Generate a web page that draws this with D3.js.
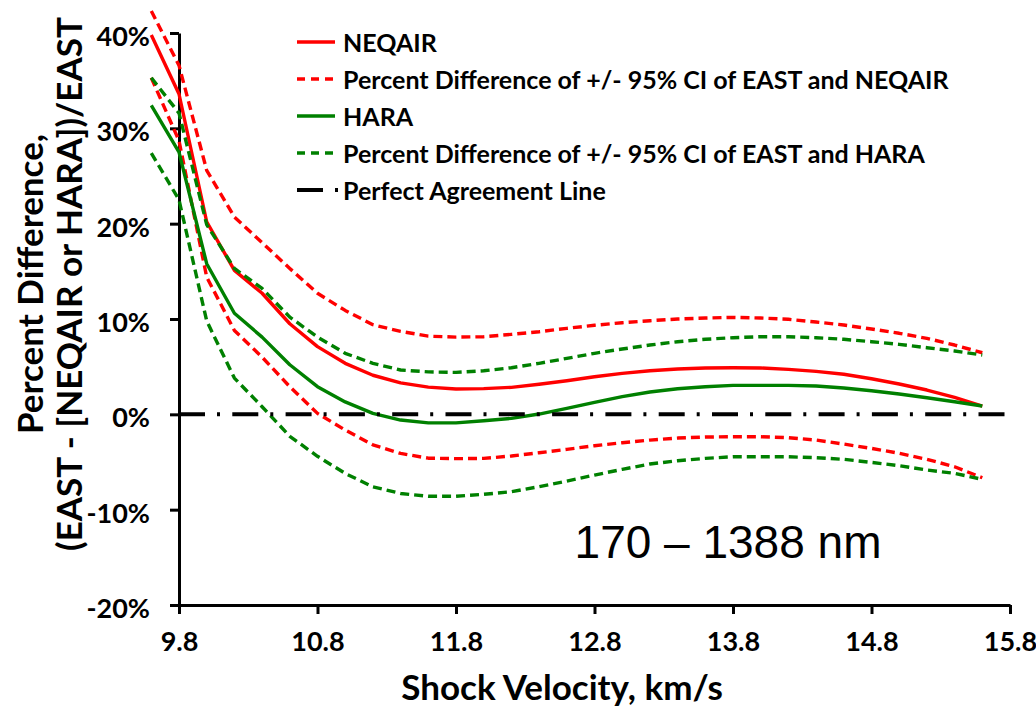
<!DOCTYPE html>
<html lang="en">
<head>
<meta charset="UTF-8">
<title>Percent Difference vs Shock Velocity</title>
<script src="https://cdn.jsdelivr.net/npm/d3@7"></script>
<style>
    body { margin: 0; background: #fff; }
    svg { display: block; }
    text { font-family: Lato, "Open Sans", sans-serif; font-weight: bold; fill: #000; }
    text.note { font-family: "Liberation Sans", Arial, sans-serif; font-weight: normal; }
</style>
</head>
<body>
<svg id="chart" width="1036" height="707"></svg>
<script>
    // data, percent difference by shock velocity (km/s)
    var velocity = [9.6, 9.8, 10.0, 10.2, 10.4, 10.6, 10.8, 11.0, 11.2, 11.4, 11.6, 11.8,
        12.0, 12.2, 12.4, 12.6, 12.8, 13.0, 13.2, 13.4, 13.6, 13.8,
        14.0, 14.2, 14.4, 14.6, 14.8, 15.0, 15.2, 15.4, 15.6];

    var neqair = [39.8, 33.6, 20.2, 15.1, 12.7, 9.5, 7.1, 5.35, 4.1, 3.3, 2.85, 2.65,
        2.7, 2.83, 3.15, 3.52, 3.94, 4.3, 4.57, 4.75, 4.86, 4.89,
        4.86, 4.72, 4.51, 4.2, 3.73, 3.18, 2.55, 1.78, 0.87];
    var neqairUpper = [42.3, 36.6, 25.6, 20.7, 18.0, 15.3, 12.7, 10.9, 9.4, 8.7, 8.2, 8.1,
        8.14, 8.39, 8.66, 9.02, 9.34, 9.61, 9.82, 10.0, 10.1, 10.17,
        10.1, 9.97, 9.68, 9.37, 8.95, 8.5, 7.97, 7.27, 6.46];
    var neqairLower = [35.3, 28.7, 14.4, 8.8, 6.0, 2.9, 0.1, -1.65, -3.2, -4.1, -4.6, -4.65,
        -4.62, -4.37, -4.03, -3.67, -3.29, -2.98, -2.7, -2.49, -2.38, -2.35,
        -2.35, -2.45, -2.7, -3.12, -3.57, -4.09, -4.72, -5.5, -6.65];

    var hara = [32.4, 27.5, 15.8, 10.6, 8.1, 5.2, 2.9, 1.3, 0.1, -0.6, -0.9, -0.9,
        -0.67, -0.42, 0.03, 0.63, 1.26, 1.85, 2.34, 2.69, 2.9, 3.04,
        3.04, 3.04, 2.97, 2.76, 2.48, 2.13, 1.74, 1.32, 0.87];
    var haraUpper = [35.3, 31.6, 19.9, 15.3, 13.2, 10.2, 8.1, 6.4, 5.35, 4.65, 4.45, 4.4,
        4.57, 4.89, 5.35, 5.87, 6.4, 6.85, 7.27, 7.62, 7.87, 8.04,
        8.14, 8.14, 8.04, 7.87, 7.62, 7.34, 6.99, 6.64, 6.22];
    var haraLower = [27.4, 22.5, 9.8, 3.8, 0.8, -2.3, -4.4, -6.2, -7.6, -8.3, -8.6, -8.6,
        -8.39, -8.12, -7.59, -7.0, -6.37, -5.77, -5.21, -4.87, -4.62, -4.45,
        -4.45, -4.45, -4.55, -4.72, -5.04, -5.39, -5.84, -6.19, -6.82];

    var agreementX = [9.8, 15.8];
    var agreementY = [0, 0];

    var xTicks = [9.8, 10.8, 11.8, 12.8, 13.8, 14.8, 15.8];
    var yTicks = [-20, -10, 0, 10, 20, 30, 40];

    var legendLabels = ['NEQAIR',
        'Percent Difference of +/- 95% CI of EAST and NEQAIR',
        'HARA',
        'Percent Difference of +/- 95% CI of EAST and HARA',
        'Perfect Agreement Line'];

    var svg = d3.select('#chart');

    var x = d3.scaleLinear().domain([9.8, 15.8]).range([179, 1010]);
    var y = d3.scaleLinear().domain([-20, 40]).range([605, 33]);

    var RED = '#ff0000', GREEN = '#008000';
    var DASH = '9,5';
    var DASHDOT = '26,12,3,12.3';

    // axes
    var yAxis = svg.append('g')
        .attr('transform', 'translate(179,0)')
        .call(d3.axisLeft(y).tickValues(yTicks).tickSize(9).tickSizeOuter(0)
            .tickFormat(function(d) { return d + '%'; }));
    var xAxis = svg.append('g')
        .attr('transform', 'translate(0,605)')
        .call(d3.axisBottom(x).tickValues(xTicks).tickSize(9).tickSizeOuter(0)
            .tickFormat(d3.format('.1f')));

    [yAxis, xAxis].forEach(function(g) {
        g.selectAll('path, line').attr('stroke', '#000').attr('stroke-width', 3);
        g.selectAll('text').attr('font-size', 27);
    });
    yAxis.selectAll('text').attr('x', -29).attr('dy', 12.5);
    xAxis.selectAll('text').attr('y', 46).attr('dy', 0);

    // series
    var line = d3.line()
        .x(function(d) { return x(d[0]); })
        .y(function(d) { return y(d[1]); });

    function draw(values, color, dash) {
        svg.append('path')
            .datum(velocity.map(function(v, i) { return [v, values[i]]; }))
            .attr('d', line)
            .attr('fill', 'none')
            .attr('stroke', color)
            .attr('stroke-width', 3.4)
            .attr('stroke-dasharray', dash)
            .attr('stroke-linejoin', 'round');
    }

    draw(neqair, RED, null);
    draw(neqairUpper, RED, DASH);
    draw(neqairLower, RED, DASH);
    draw(hara, GREEN, null);
    draw(haraUpper, GREEN, DASH);
    draw(haraLower, GREEN, DASH);

    svg.append('path')
        .datum(agreementX.map(function(v, i) { return [v, agreementY[i]]; }))
        .attr('d', line)
        .attr('fill', 'none')
        .attr('stroke', '#000')
        .attr('stroke-width', 4)
        .attr('stroke-dasharray', DASHDOT);

    // legend
    var legendStyles = [
        { color: RED, dash: null },
        { color: RED, dash: '8,6' },
        { color: GREEN, dash: null },
        { color: GREEN, dash: '8,6' },
        { color: '#000', dash: DASHDOT }
    ];
    var legend = svg.append('g').selectAll('g')
        .data(legendLabels)
        .enter().append('g')
        .attr('transform', function(d, i) { return 'translate(297,' + (42 + i * 37) + ')'; });
    legend.append('line')
        .attr('x1', 0)
        .attr('x2', function(d, i) { return i == 4 ? 41 : 38; })
        .attr('stroke', function(d, i) { return legendStyles[i].color; })
        .attr('stroke-width', function(d, i) { return i == 4 ? 4 : 3.4; })
        .attr('stroke-dasharray', function(d, i) { return legendStyles[i].dash; });
    legend.append('text')
        .attr('x', 46)
        .attr('y', 9.5)
        .attr('font-size', 25)
        .text(function(d) { return d; });

    // axis titles
    svg.append('text')
        .attr('x', 562)
        .attr('y', 700)
        .attr('text-anchor', 'middle')
        .attr('font-size', 35)
        .text('Shock Velocity, km/s');

    var yTitle = svg.append('text')
        .attr('transform', 'translate(43,284) rotate(-90)')
        .attr('text-anchor', 'middle')
        .attr('font-size', 35);
    yTitle.append('tspan').attr('x', 0).attr('y', 0).text('Percent Difference,');
    yTitle.append('tspan').attr('x', 0).attr('y', 39).text('(EAST - [NEQAIR or HARA])/EAST');

    // wavelength range note
    svg.append('text')
        .attr('class', 'note')
        .attr('x', 728)
        .attr('y', 558)
        .attr('text-anchor', 'middle')
        .attr('font-size', 46)
        .text('170 \u2013 1388 nm');
</script>
</body>
</html>
